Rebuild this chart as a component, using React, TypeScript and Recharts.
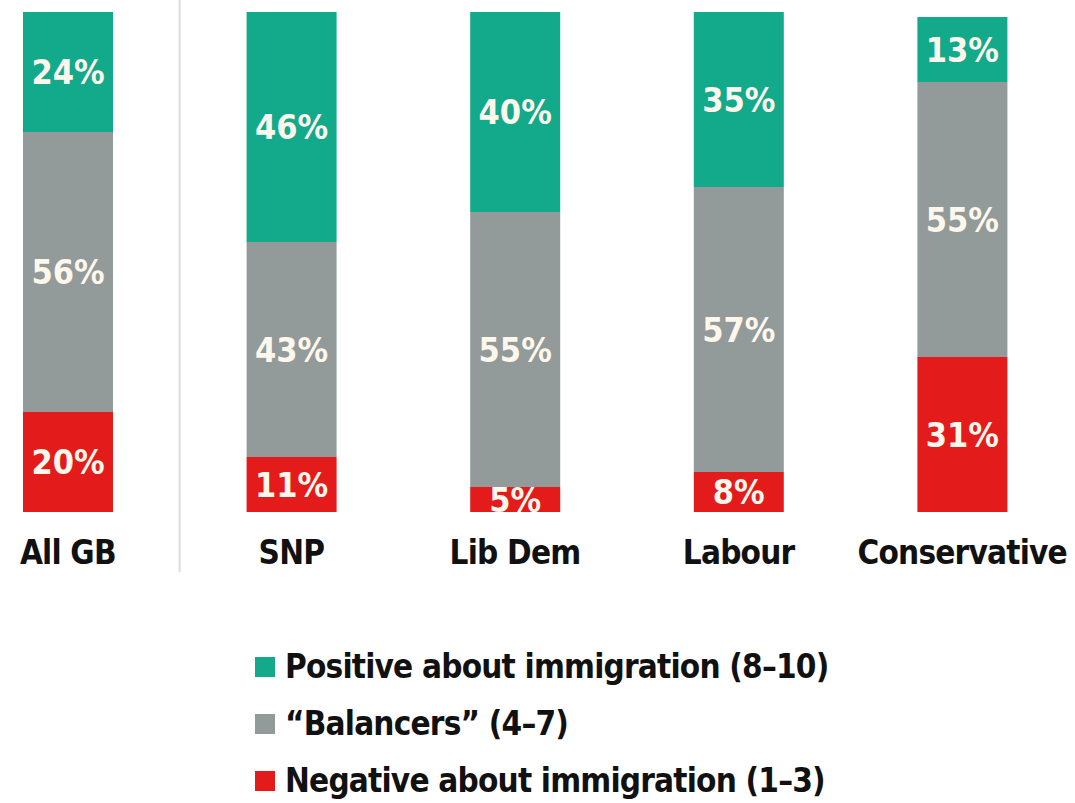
import { Bar, BarChart, LabelList, Legend, ReferenceLine, XAxis, YAxis } from "recharts";

const CATEGORIES = ["All GB", "SNP", "Lib Dem", "Labour", "Conservative"];
const POSITIVE = [24, 46, 40, 35, 13];
const BALANCERS = [56, 43, 55, 57, 55];
const NEGATIVE = [20, 11, 5, 8, 31];

const SERIES_NAMES = {
  positive: "Positive about immigration (8–10)",
  balancers: "“Balancers” (4–7)",
  negative: "Negative about immigration (1–3)",
};
const LEGEND_ORDER = ["positive", "balancers", "negative"];

const GREEN = "#13a98b";
const GREY = "#939a9a";
const RED = "#e31b1b";
const FONT = "'Liberation Sans Narrow', 'DejaVu Sans Condensed', sans-serif";

const data = CATEGORIES.map((name, i) => ({
  name,
  positive: POSITIVE[i],
  balancers: BALANCERS[i],
  negative: NEGATIVE[i],
}));

function CategoryTick({ x, y, payload }: any) {
  return (
    <text
      x={x}
      y={y}
      dy={-16}
      textAnchor="middle"
      fill="#111"
      fontFamily={FONT}
      fontWeight="bold"
      fontSize={33}
      letterSpacing={-0.8}
    >
      {payload.value}
    </text>
  );
}

function LegendBox({ payload }: any) {
  const items = [...(payload || [])].sort(
    (a: any, b: any) =>
      LEGEND_ORDER.indexOf(a.dataKey) - LEGEND_ORDER.indexOf(b.dataKey)
  );
  return (
    <div style={{ height: 191, paddingTop: 26, boxSizing: "border-box" }}>
      {items.map((entry: any) => (
        <div
          key={entry.value}
          style={{
            display: "flex",
            alignItems: "center",
            height: 57,
            paddingLeft: 299,
            fontFamily: FONT,
            fontWeight: "bold",
            fontSize: 33,
            letterSpacing: -0.8,
            color: "#111",
          }}
        >
          <span
            style={{
              display: "inline-block",
              width: 20,
              height: 20,
              background: entry.color,
              marginRight: 10,
            }}
          />
          {entry.value}
        </div>
      ))}
    </div>
  );
}

const pctLabel = {
  position: "center" as const,
  fill: "#fdf7ec",
  fontFamily: FONT,
  fontWeight: "bold",
  fontSize: 34,
  formatter: (v: number) => `${v}%`,
};

export default function App() {
  return (
    <div style={{ position: "absolute", top: 0, left: -44 }}>
      <BarChart
        width={1118}
        height={803}
        data={data}
        barCategoryGap={0}
        barSize={90}
        margin={{ top: 0, right: 0, left: 0, bottom: 0 }}
      >
        <XAxis
          dataKey="name"
          height={40}
          axisLine={false}
          tickLine={false}
          tick={<CategoryTick />}
          interval={0}
        />
        <YAxis hide domain={[-12, 102.4]} allowDataOverflow />
        <ReferenceLine
          x="All GB"
          position="end"
          stroke="#dcdcdc"
          strokeWidth={2}
        />
        <Legend verticalAlign="bottom" content={<LegendBox />} />
        <Bar
          dataKey="negative"
          name={SERIES_NAMES.negative}
          stackId="a"
          fill={RED}
          isAnimationActive={false}
        >
          <LabelList dataKey="negative" {...pctLabel} />
        </Bar>
        <Bar
          dataKey="balancers"
          name={SERIES_NAMES.balancers}
          stackId="a"
          fill={GREY}
          isAnimationActive={false}
        >
          <LabelList dataKey="balancers" {...pctLabel} />
        </Bar>
        <Bar
          dataKey="positive"
          name={SERIES_NAMES.positive}
          stackId="a"
          fill={GREEN}
          isAnimationActive={false}
        >
          <LabelList dataKey="positive" {...pctLabel} />
        </Bar>
      </BarChart>
    </div>
  );
}
